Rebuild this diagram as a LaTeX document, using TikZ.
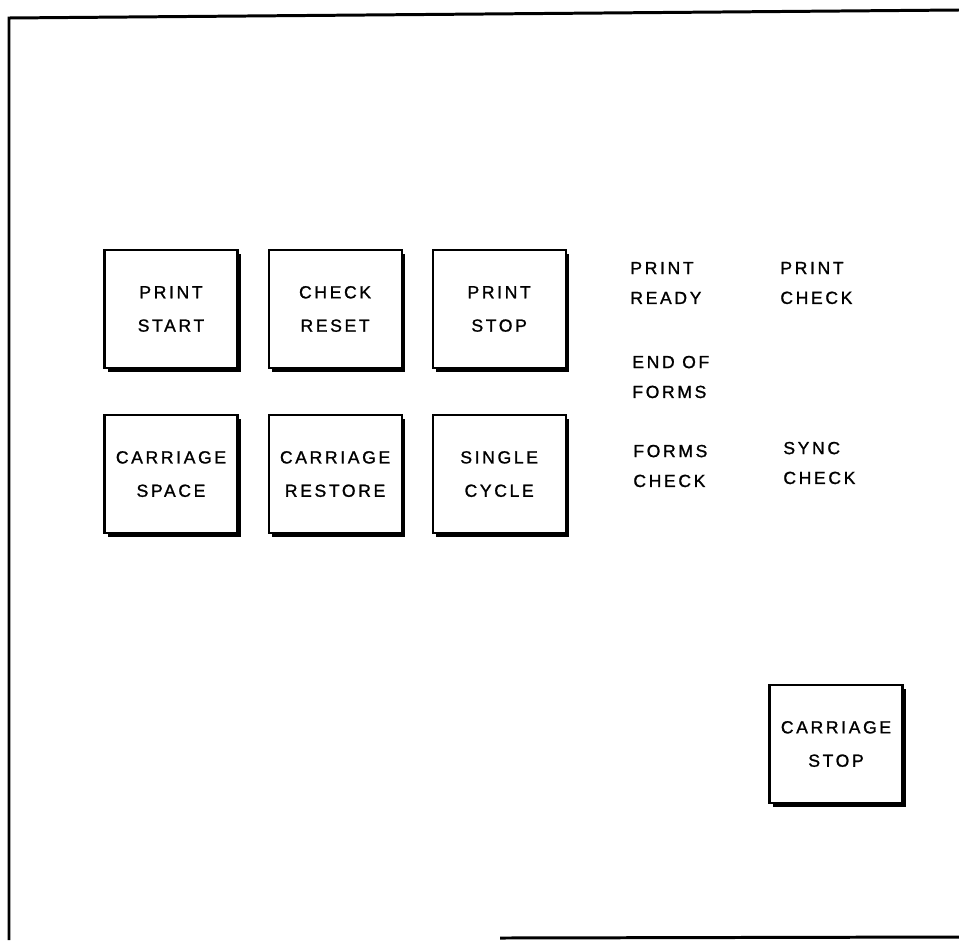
\documentclass[tikz,border=0pt]{standalone}
\usepackage{fontspec}
\newfontfamily\lettering[LetterSpace=15, FakeBold=1.2]{Liberation Sans}
\usetikzlibrary{positioning, shadows}

\begin{document}
\begin{tikzpicture}[
    x=0.02cm, y=-0.02cm,
    node distance=0.9cm and 0.58cm,
    key/.style={rectangle, draw=black, line width=1.2pt, fill=white, minimum width=2.66cm, minimum height=2.36cm, text centered, align=center, inner sep=2pt, font=\lettering\fontsize{10}{19}\selectfont, drop shadow={shadow xshift=1.8pt, shadow yshift=-2pt, fill=black, opacity=1}},
    lamp/.style={anchor=west, align=left, inner sep=0pt, font=\lettering\fontsize{10}{17}\selectfont},
    frame/.style={line width=1.7pt}
]
\useasboundingbox (0,0) rectangle (959,940);

% Panel outline
\draw [frame] (9,940) -- (9,18) -- (959,10);
\draw [frame] (500,938) -- (959,937);

% Keys
\node (print_start) [key] at (171,309) {PRINT\\START};
\node (check_reset) [key, right=of print_start] {CHECK\\RESET};
\node (print_stop) [key, right=of check_reset] {PRINT\\STOP};

\node (carr_space) [key, below=of print_start] {CARRIAGE\\SPACE};
\node (carr_restore) [key, below=of check_reset] {CARRIAGE\\RESTORE};
\node (single_cycle) [key, below=of print_stop] {SINGLE\\CYCLE};

\node (carr_stop) [key] at (836,744) {CARRIAGE\\STOP};

% Indicator lights
\node (print_ready) [lamp] at (630,283) {PRINT\\READY};
\node (print_check) [lamp] at (780,283) {PRINT\\CHECK};
\node (end_forms) [lamp] at (632,377) {END OF\\FORMS};
\node (forms_check) [lamp] at (633,466) {FORMS\\CHECK};
\node (sync_check) [lamp] at (783,463) {SYNC\\CHECK};

\end{tikzpicture}
\end{document}
